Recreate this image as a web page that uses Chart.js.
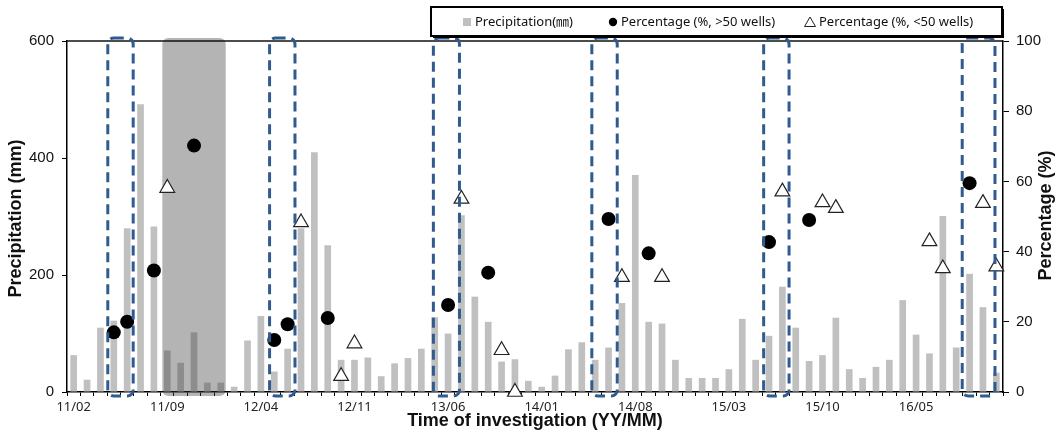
<!DOCTYPE html>
<html>
<head>
<meta charset="utf-8">
<script src="https://cdn.jsdelivr.net/npm/chart.js@4.4.1/dist/chart.umd.min.js"></script>
<style>
  html, body { margin: 0; padding: 0; background: #fff; }
  #wrap { width: 1056px; height: 430px; position: relative; }
</style>
</head>
<body>
<div id="wrap"><canvas id="c" width="1056" height="430"></canvas></div>
<script>
// Monthly categories, 2011/02 – 2016/11
const months = [
  '11/02','11/03','11/04','11/05','11/06','11/07','11/08','11/09','11/10','11/11','11/12',
  '12/01','12/02','12/03','12/04','12/05','12/06','12/07','12/08','12/09','12/10','12/11','12/12',
  '13/01','13/02','13/03','13/04','13/05','13/06','13/07','13/08','13/09','13/10','13/11','13/12',
  '14/01','14/02','14/03','14/04','14/05','14/06','14/07','14/08','14/09','14/10','14/11','14/12',
  '15/01','15/02','15/03','15/04','15/05','15/06','15/07','15/08','15/09','15/10','15/11','15/12',
  '16/01','16/02','16/03','16/04','16/05','16/06','16/07','16/08','16/09','16/10','16/11'
];

// Monthly precipitation (mm)
const precipitation = [
  63, 21, 110, 122, 280, 492, 283, 71, 50, 102, 16,
  16, 9, 88, 130, 35, 74, 280, 410, 251, 55, 55, 59,
  27, 49, 58, 74, 128, 100, 302, 163, 120, 52, 56, 19,
  9, 28, 73, 85, 55, 76, 152, 371, 120, 117, 55, 24,
  24, 24, 39, 125, 55, 96, 180, 110, 53, 63, 127, 39,
  24, 43, 55, 157, 98, 66, 301, 76, 202, 145, 33
];

// Axis labels shown along the time axis
const shownTicks = ['11/02','11/09','12/04','12/11','13/06','14/01','14/08','15/03','15/10','16/05'];

// Detection percentage, surveys with more than 50 wells
const overMonths = ['11/05','11/06','11/08','11/11','12/05','12/06','12/09','13/06','13/09','14/06','14/09','15/06','15/09','16/09'];
const overPct    = [17.0, 20.0, 34.6, 70.2, 14.8, 19.3, 21.1, 24.8, 34.0, 49.3, 39.5, 42.7, 49.0, 59.5];

// Detection percentage, surveys with fewer than 50 wells
const underMonths = ['11/09','12/07','12/10','12/11','13/07','13/10','13/11','14/07','14/10','15/07','15/10','15/11','16/06','16/07','16/10','16/11'];
const underPct    = [58.1, 48.3, 4.5, 13.8, 55.0, 11.9, 0.0, 32.7, 32.7, 57.1, 54.0, 52.4, 42.9, 35.2, 53.8, 35.7];

// Highlighted survey windows (category index units)
const windowStart = [2.55, 14.65, 26.9, 38.75, 51.6, 66.45];
const windowEnd   = [4.45, 16.55, 28.85, 40.65, 53.5, 68.9];

// Shaded period (category index units)
const shadeStart = 6.63;
const shadeEnd = 11.37;

const TITLE_FONT = 'bold 18px "Liberation Sans", Arial, sans-serif';
const LEGEND_FONT = '13px "Noto Sans", "Noto Sans CJK KR", sans-serif';

const decor = {
  id: 'decor',
  afterDatasetDraw(chart, args) {
    if (args.index !== 0) return;
    const ctx = chart.ctx, a = chart.chartArea, x = chart.scales.x;
    const l = x.getPixelForValue(shadeStart), r = x.getPixelForValue(shadeEnd);
    ctx.save();
    ctx.fillStyle = 'rgba(58,58,58,0.38)';
    ctx.beginPath();
    ctx.roundRect(l, a.top - 3, r - l, a.bottom - a.top + 7, 6);
    ctx.fill();
    ctx.restore();
  },
  afterDatasetsDraw(chart) {
    const ctx = chart.ctx, a = chart.chartArea, x = chart.scales.x;
    ctx.save();
    // top frame line
    ctx.strokeStyle = '#111';
    ctx.lineWidth = 1.5;
    ctx.beginPath();
    ctx.moveTo(a.left, a.top);
    ctx.lineTo(a.right, a.top);
    ctx.stroke();
    // dashed survey windows
    ctx.strokeStyle = '#2f5b8f';
    ctx.lineWidth = 3;
    ctx.setLineDash([10, 6]);
    for (let i = 0; i < windowStart.length; i++) {
      const l = x.getPixelForValue(windowStart[i]);
      const r = x.getPixelForValue(windowEnd[i]);
      ctx.beginPath();
      ctx.roundRect(l, a.top - 3, r - l, a.bottom - a.top + 7, 6);
      ctx.stroke();
    }
    ctx.restore();
  },
  afterDraw(chart) {
    const ctx = chart.ctx, a = chart.chartArea;
    const ds = chart.data.datasets;
    ctx.save();

    // axis titles
    ctx.fillStyle = '#111';
    ctx.font = TITLE_FONT;
    ctx.textAlign = 'center';
    ctx.textBaseline = 'middle';
    ctx.fillText('Time of investigation (YY/MM)', (a.left + a.right) / 2, 421);
    ctx.save();
    ctx.translate(16, (a.top + a.bottom) / 2 + 2);
    ctx.rotate(-Math.PI / 2);
    ctx.fillText('Precipitation (mm)', 0, 0);
    ctx.restore();
    ctx.save();
    ctx.translate(1046, (a.top + a.bottom) / 2 - 1);
    ctx.rotate(-Math.PI / 2);
    ctx.fillText('Percentage (%)', 0, 0);
    ctx.restore();

    // legend box
    const bx = 431, by = 7, bw = 571, bh = 29;
    ctx.fillStyle = '#000';
    ctx.fillRect(bx + 2, by + 2, bw, bh);
    ctx.fillStyle = '#fff';
    ctx.fillRect(bx, by, bw, bh);
    ctx.strokeStyle = '#000';
    ctx.lineWidth = 2;
    ctx.strokeRect(bx, by, bw, bh);

    const cy = by + bh / 2 + 0.5;
    ctx.font = LEGEND_FONT;
    ctx.textAlign = 'left';
    ctx.textBaseline = 'middle';

    // item 1: bars
    ctx.fillStyle = ds[0].backgroundColor;
    ctx.fillRect(463, cy - 4, 8, 8);
    ctx.fillStyle = '#111';
    ctx.fillText(ds[0].label, 475, cy);

    // item 2: filled circle
    ctx.fillStyle = '#000';
    ctx.beginPath();
    ctx.arc(613, cy, 4.2, 0, Math.PI * 2);
    ctx.fill();
    ctx.fillStyle = '#111';
    ctx.fillText(ds[1].label, 621, cy);

    // item 3: open triangle
    ctx.strokeStyle = '#222';
    ctx.lineWidth = 1;
    ctx.beginPath();
    ctx.moveTo(810, cy - 5);
    ctx.lineTo(815.5, cy + 4.5);
    ctx.lineTo(804.5, cy + 4.5);
    ctx.closePath();
    ctx.stroke();
    ctx.fillStyle = '#111';
    ctx.fillText(ds[2].label, 819, cy);

    ctx.restore();
  }
};

const tickFont = { family: '"Liberation Sans", Arial, sans-serif', size: 15 };

new Chart(document.getElementById('c'), {
  type: 'bar',
  data: {
    labels: months,
    datasets: [
      {
        type: 'bar',
        label: 'Precipitation(㎜)',
        data: precipitation,
        backgroundColor: '#c0c0c0',
        yAxisID: 'y',
        barPercentage: 0.5,
        categoryPercentage: 1.0,
        order: 2
      },
      {
        type: 'line',
        label: 'Percentage (%, >50 wells)',
        data: overMonths.map((m, i) => ({ x: m, y: overPct[i] })),
        showLine: false,
        pointStyle: 'circle',
        pointRadius: 7,
        pointBackgroundColor: '#000',
        pointBorderColor: '#000',
        pointBorderWidth: 0,
        yAxisID: 'y1',
        clip: false,
        order: 1
      },
      {
        type: 'line',
        label: 'Percentage (%, <50 wells)',
        data: underMonths.map((m, i) => ({ x: m, y: underPct[i] })),
        showLine: false,
        pointStyle: 'triangle',
        pointRadius: 8.5,
        pointBackgroundColor: '#fff',
        pointBorderColor: '#222',
        pointBorderWidth: 1.2,
        yAxisID: 'y1',
        clip: false,
        order: 0
      }
    ]
  },
  options: {
    responsive: false,
    devicePixelRatio: 1,
    animation: false,
    events: [],
    layout: { padding: { top: 41, left: 0, right: 0, bottom: 0 } },
    plugins: { legend: { display: false }, tooltip: { enabled: false } },
    scales: {
      x: {
        type: 'category',
        offset: true,
        grid: { display: true, drawOnChartArea: false, drawTicks: true, tickLength: 4, color: '#000', offset: true },
        border: { display: true, color: '#000', width: 1.5 },
        ticks: {
          autoSkip: false, maxRotation: 0, minRotation: 0, padding: 3,
          color: '#222',
          font: { family: '"Noto Sans", sans-serif', size: 13 },
          callback(v) {
            const l = this.getLabelForValue(v);
            return shownTicks.includes(l) ? l : '';
          }
        },
        afterFit(s) { s.height = 38; }
      },
      y: {
        position: 'left',
        min: 0, max: 600,
        grid: { drawOnChartArea: false, drawTicks: true, tickLength: 5, color: '#000' },
        border: { display: true, color: '#000', width: 1.5 },
        ticks: { stepSize: 200, padding: 8, color: '#111', font: tickFont },
        afterFit(s) { s.width = 67; }
      },
      y1: {
        position: 'right',
        min: 0, max: 100,
        grid: { drawOnChartArea: false, drawTicks: true, tickLength: 6, color: '#000' },
        border: { display: true, color: '#000', width: 1.5 },
        ticks: { stepSize: 20, padding: 7, color: '#111', font: tickFont },
        afterFit(s) { s.width = 53; }
      }
    }
  },
  plugins: [decor]
});
</script>
</body>
</html>
